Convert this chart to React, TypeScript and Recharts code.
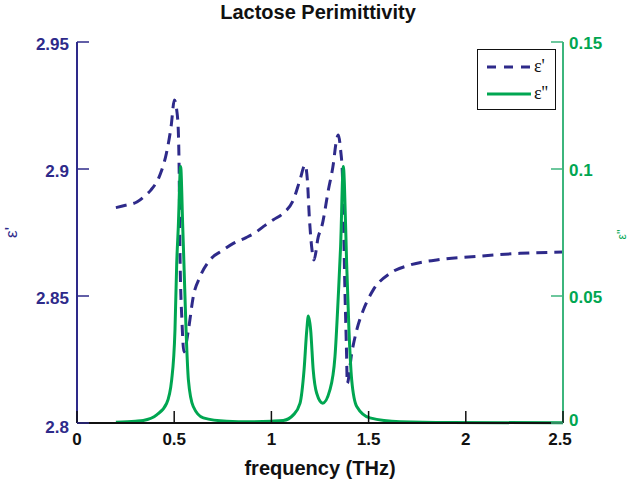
import React from "react";
import { LineChart, Line, XAxis, YAxis, Legend } from "recharts";

// real part (dashed, left axis)
const realFreq = [
  0.2, 0.25, 0.31, 0.35, 0.38, 0.43, 0.46, 0.484, 0.501, 0.513, 0.521, 0.525, 0.53, 0.54, 0.55,
  0.573, 0.598, 0.633, 0.684, 0.75, 0.804, 0.87, 0.924, 0.958, 1.01, 1.061, 1.113, 1.147, 1.173,
  1.185, 1.195, 1.207, 1.219, 1.241, 1.259, 1.293, 1.319, 1.332, 1.344, 1.356, 1.365, 1.379,
  1.387, 1.39, 1.413, 1.439, 1.473, 1.524, 1.61, 1.713, 1.85, 2.073, 2.279, 2.5,
];
const realValues = [
  2.8848, 2.8857, 2.8871, 2.8895, 2.8917, 2.8983, 2.9062, 2.9167, 2.9272, 2.9232, 2.9154, 2.9022,
  2.8655, 2.84, 2.828, 2.8366, 2.8497, 2.8576, 2.8642, 2.868, 2.8707, 2.873, 2.8753, 2.8773, 2.88,
  2.8826, 2.8878, 2.8957, 2.9016, 2.8957, 2.8812, 2.8694, 2.8642, 2.8733, 2.8773, 2.8917, 2.9022,
  2.9101, 2.9134, 2.9075, 2.8983, 2.8497, 2.8261, 2.8156, 2.8274, 2.8366, 2.8445, 2.8524, 2.8589,
  2.8622, 2.8642, 2.8657, 2.8668, 2.8673,
];

// imaginary part (solid, right axis)
const imagFreq = [
  0.2, 0.3, 0.341, 0.41, 0.461, 0.487, 0.504, 0.513, 0.521, 0.533, 0.544, 0.55, 0.561, 0.573,
  0.598, 0.65, 0.77, 0.89, 1.0, 1.061, 1.113, 1.147, 1.168, 1.182, 1.19, 1.202, 1.215, 1.233,
  1.264, 1.301, 1.327, 1.344, 1.356, 1.37, 1.382, 1.387, 1.399, 1.413, 1.439, 1.507, 1.662,
  1.919, 2.5,
];
const imagValues = [
  0.0003, 0.0007, 0.001, 0.0032, 0.0077, 0.017, 0.0366, 0.063, 0.077, 0.101, 0.077, 0.063, 0.0366,
  0.017, 0.0065, 0.002, 0.0007, 0.0005, 0.0007, 0.001, 0.0032, 0.0077, 0.0209, 0.0366, 0.0421,
  0.0366, 0.0209, 0.0117, 0.0078, 0.013, 0.0261, 0.0498, 0.0695, 0.101, 0.077, 0.063, 0.0366,
  0.017, 0.0065, 0.002, 0.0005, 0.0002, 0.0001,
];

const freqTicks = [0, 0.5, 1, 1.5, 2, 2.5];
const realTicks = [2.8, 2.85, 2.9, 2.95];
const imagTicks = [0, 0.05, 0.1, 0.15];

const realData = realFreq.map((f, i) => ({ f, v: realValues[i] }));
const imagData = imagFreq.map((f, i) => ({ f, v: imagValues[i] }));

const NAVY = "#2e2a8a";
const GREEN = "#00a651";
const AXIS_GREEN = "#3cb57c";
const SANS = "'Liberation Sans', Arial, Helvetica, sans-serif";

const BottomTick = (props: any) => {
  const { x, y, payload } = props;
  // matlab nudges the last label a little inward
  const tx = payload.value === 2.5 ? x - 3 : x;
  return (
    <g>
      <line x1={x} y1={y} x2={x} y2={y - 12} stroke="#111" strokeWidth={1.5} />
      <text x={tx} y={y + 22} textAnchor="middle" fill="#111" fontSize={17} fontWeight="bold" fontFamily={SANS}>
        {String(payload.value)}
      </text>
    </g>
  );
};

const TopTick = (props: any) => {
  const { x, y } = props;
  return <line x1={x} y1={y} x2={x} y2={y + 12} stroke="#111" strokeWidth={1.5} />;
};

const LeftTick = (props: any) => {
  const { x, y, payload } = props;
  const dy = payload.value === 2.8 ? 10 : 8;
  return (
    <g>
      <line x1={x} y1={y} x2={x + 12} y2={y} stroke={NAVY} strokeWidth={1.5} />
      <text x={x - 8} y={y + dy} textAnchor="end" fill={NAVY} fontSize={17} fontWeight="bold" fontFamily={SANS}>
        {String(payload.value)}
      </text>
    </g>
  );
};

const RightTick = (props: any) => {
  const { x, y, payload } = props;
  const dy = payload.value === 0 ? 3 : 7;
  return (
    <g>
      <line x1={x} y1={y} x2={x - 12} y2={y} stroke={AXIS_GREEN} strokeWidth={1.5} />
      <text x={x + 6} y={y + dy} textAnchor="start" fill={GREEN} fontSize={17} fontWeight="bold" fontFamily={SANS}>
        {String(payload.value)}
      </text>
    </g>
  );
};

const LegendBox = () => (
  <div
    style={{
      width: 77,
      height: 59,
      border: "1.5px solid #111",
      background: "#fff",
      fontFamily: "'Liberation Serif', 'Times New Roman', serif",
      fontSize: 18,
      color: "#111",
    }}
  >
    <div style={{ display: "flex", alignItems: "center", height: 27, marginTop: 3 }}>
      <svg width={56} height={10}>
        <line x1={9} y1={5} x2={53} y2={5} stroke={NAVY} strokeWidth={3} strokeDasharray="9 8" />
      </svg>
      <span>ε'</span>
    </div>
    <div style={{ display: "flex", alignItems: "center", height: 27 }}>
      <svg width={56} height={10}>
        <line x1={9} y1={5} x2={53} y2={5} stroke={GREEN} strokeWidth={3} />
      </svg>
      <span>ε''</span>
    </div>
  </div>
);

export default function App() {
  return (
    <div style={{ position: "absolute", left: 0, top: 0, width: 630, height: 484, background: "#fff" }}>
      <div
        style={{
          position: "absolute",
          left: 0,
          width: 636,
          top: 1,
          textAlign: "center",
          fontFamily: SANS,
          fontWeight: "bold",
          fontSize: 20,
          color: "#111",
        }}
      >
        Lactose Perimittivity
      </div>
      <LineChart width={630} height={484} margin={{ top: 42, right: 0, bottom: 0, left: 0 }}>
        <XAxis
          dataKey="f"
          type="number"
          domain={[0, 2.5]}
          ticks={freqTicks}
          interval={0}
          height={61}
          tickSize={0}
          tickMargin={0}
          tick={<BottomTick />}
          axisLine={{ stroke: "#111", strokeWidth: 2 }}
          tickLine={false}
          label={{
            content: (p: any) => {
              const vb = p.viewBox;
              return (
                <text x={vb.x + vb.width / 2} y={vb.y + 52} textAnchor="middle" fill="#111" fontSize={20} fontWeight="bold" fontFamily={SANS}>
                  frequency (THz)
                </text>
              );
            },
          }}
        />
        <XAxis
          xAxisId="top"
          dataKey="f"
          type="number"
          orientation="top"
          domain={[0, 2.5]}
          ticks={freqTicks}
          interval={0}
          height={0}
          tickSize={0}
          tickMargin={0}
          tick={<TopTick />}
          axisLine={{ stroke: "#111", strokeWidth: 2 }}
          tickLine={false}
        />
        <YAxis
          yAxisId="left"
          domain={[2.8, 2.95]}
          ticks={realTicks}
          interval={0}
          width={77}
          tickSize={0}
          tickMargin={0}
          tick={<LeftTick />}
          axisLine={{ stroke: NAVY, strokeWidth: 2 }}
          tickLine={false}
          label={{
            content: (p: any) => {
              const vb = p.viewBox;
              const cx = vb.x + 17;
              const cy = vb.y + vb.height / 2;
              return (
                <text x={cx} y={cy} transform={`rotate(-90 ${cx} ${cy})`} textAnchor="middle" fill={NAVY} fontSize={17} fontFamily={SANS}>
                  ε'
                </text>
              );
            },
          }}
        />
        <YAxis
          yAxisId="right"
          orientation="right"
          domain={[0, 0.15]}
          ticks={imagTicks}
          interval={0}
          width={67}
          tickSize={0}
          tickMargin={0}
          tick={<RightTick />}
          axisLine={{ stroke: AXIS_GREEN, strokeWidth: 2 }}
          tickLine={false}
          label={{
            content: (p: any) => {
              const vb = p.viewBox;
              const cx = vb.x + 63;
              const cy = vb.y + vb.height / 2 + 2;
              return (
                <text x={cx} y={cy} transform={`rotate(-90 ${cx} ${cy})`} textAnchor="middle" fill={GREEN} fontSize={12} fontFamily={SANS}>
                  ε''
                </text>
              );
            },
          }}
        />
        <Legend
          layout="vertical"
          align="center"
          verticalAlign="middle"
          content={<LegendBox />}
          wrapperStyle={{ left: 477, top: 49, width: 80, height: 62, right: "auto", bottom: "auto" }}
        />
        <Line
          yAxisId="left"
          data={realData}
          dataKey="v"
          name="ε'"
          type="monotone"
          stroke={NAVY}
          strokeWidth={3}
          strokeDasharray="11 7"
          dot={false}
          activeDot={false}
          isAnimationActive={false}
        />
        <Line
          yAxisId="right"
          data={imagData}
          dataKey="v"
          name="ε''"
          type="monotone"
          stroke={GREEN}
          strokeWidth={3}
          dot={false}
          activeDot={false}
          isAnimationActive={false}
        />
      </LineChart>
    </div>
  );
}
